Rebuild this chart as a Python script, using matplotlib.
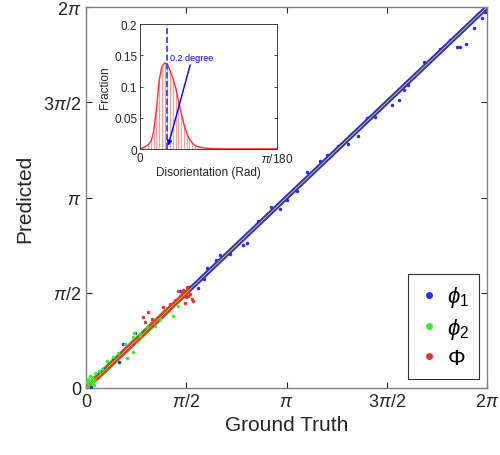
import numpy as np
import matplotlib
matplotlib.use("Agg")
import matplotlib.pyplot as plt

plt.rcParams["font.family"] = ["Liberation Sans", "DejaVu Sans"]
plt.rcParams["mathtext.fontset"] = "custom"
plt.rcParams["mathtext.rm"] = "Liberation Sans"
plt.rcParams["mathtext.it"] = "Liberation Sans:italic"

PI = np.pi

# ----- main scatter data (radians) -----
# dense cores along the diagonal
phi1_gt = [0.02, 0.60, 1.20, 1.80, 2.40, 3.00, 3.60, 4.20, 4.80, 5.40, 6.00, 6.27]
phi1_pred = [0.02, 0.60, 1.20, 1.80, 2.40, 3.00, 3.60, 4.20, 4.80, 5.40, 6.00, 6.27]
phi2_gt = [0.00, 0.30, 0.60, 0.90, 1.20, 1.30]
phi2_pred = [0.00, 0.30, 0.60, 0.90, 1.20, 1.30]
Phi_gt = [0.15, 0.50, 0.90, 1.30, 1.62]
Phi_pred = [0.15, 0.50, 0.90, 1.30, 1.62]

# scattered points off the core
phi1_out_gt = [5.81, 5.86, 5.95, 6.08, 4.79, 4.90, 4.53, 4.26, 3.78, 3.67, 3.46, 2.10,
               2.04, 2.46, 2.52, 3.04, 1.47, 1.75, 0.58, 0.52, 0.77, 0.27, 0.42, 6.20,
               5.30, 4.10, 2.90, 1.90, 0.08, 5.55, 5.05, 4.40, 3.30, 2.70, 2.25,
               6.25, 5.70, 4.98, 3.95, 3.15, 1.60, 1.85]
phi1_out_pred = [5.63, 5.62, 5.67, 5.94, 4.67, 4.75, 4.47, 4.16, 3.84, 3.74, 3.56, 2.19,
                 2.11, 2.36, 2.39, 2.95, 1.60, 1.65, 0.73, 0.43, 0.91, 0.31, 0.49, 6.10,
                 5.38, 4.02, 2.98, 1.98, 0.02, 5.60, 5.00, 4.45, 3.25, 2.75, 2.21,
                 6.20, 5.75, 4.92, 4.00, 3.10, 1.66, 1.80]
phi2_out_gt = [0.03, 0.06, 0.14, 0.33, 0.42, 0.64, 0.74, 0.75, 0.85, 1.16, 1.36, 1.44,
               0.74, 0.85, 1.08, 0.61, 0.02, 0.10, 0.20, 0.25, 0.50, 0.95, 0.05, 0.12]
phi2_out_pred = [0.15, 0.20, 0.25, 0.45, 0.51, 0.49, 0.59, 0.91, 0.86, 1.14, 1.19, 1.35,
                 0.84, 0.89, 1.02, 0.73, 0.10, 0.18, 0.28, 0.32, 0.58, 1.00, 0.11, 0.05]
Phi_out_gt = [0.97, 0.89, 1.44, 1.47, 1.60, 1.66, 1.55, 1.68, 1.32, 1.21, 1.03, 1.00,
              0.92, 1.05, 1.52, 1.58, 1.63, 1.40, 1.50, 1.56, 0.60, 0.35]
Phi_out_pred = [1.25, 1.17, 1.60, 1.52, 1.52, 1.47, 1.40, 1.43, 1.38, 1.34, 1.14, 1.02,
                1.09, 1.06, 1.62, 1.66, 1.55, 1.45, 1.58, 1.50, 0.62, 0.37]

# ----- inset histogram: disorientation (fraction of pi/180) vs fraction -----
dis_frac = [0.00, 0.02, 0.04, 0.06, 0.08, 0.10, 0.12, 0.14, 0.16, 0.18, 0.20, 0.22,
            0.24, 0.26, 0.28, 0.30, 0.32, 0.34, 0.36, 0.38, 0.40, 0.42, 0.44, 0.46,
            0.48, 0.50, 0.55, 0.60, 0.70, 0.80, 0.90, 1.00]
dis_val = [0.000, 0.002, 0.004, 0.007, 0.012, 0.028, 0.064, 0.110, 0.132, 0.138,
           0.136, 0.125, 0.113, 0.098, 0.078, 0.058, 0.040, 0.026, 0.016, 0.010,
           0.006, 0.004, 0.003, 0.002, 0.0015, 0.001, 0.0005, 0.0003, 0.0003,
           0.0003, 0.0003, 0.0003]
peak_deg = 0.2

BLUE, GREEN, RED = "#2b2bff", "#33ee33", "#ff2b2b"
GRAY = "#808080"

fig = plt.figure(figsize=(5.0, 4.56), dpi=100)
ax = fig.add_axes([0.172, 0.147, 0.802, 0.835])

series = [(phi1_gt, phi1_pred, phi1_out_gt, phi1_out_pred, BLUE, r"$\phi_1$", 3.4),
          (phi2_gt, phi2_pred, phi2_out_gt, phi2_out_pred, GREEN, r"$\phi_2$", 4.5),
          (Phi_gt, Phi_pred, Phi_out_gt, Phi_out_pred, RED, r"$\Phi$", 3.5)]
for gt, pr, ogt, opr, c, lab, lw in series:
    ax.plot(gt, pr, color=c, lw=lw, solid_capstyle="butt", zorder=2)
    ax.plot(ogt, opr, ".", color=c, ms=3, zorder=3)
    ax.plot([], [], ".", color=c, ms=8, label=lab)

ax.plot([0, 2 * PI], [0, 2 * PI], color="#000060", lw=0.9, zorder=4)
ax.plot([0, 2 * PI], [0, 2 * PI], color="#e6e600", lw=0.7, zorder=5)

ax.set_xlim(0, 2 * PI)
ax.set_ylim(0, 2 * PI)
ticks = [0, PI / 2, PI, 3 * PI / 2, 2 * PI]
tlabels = ["0", r"$\pi$/2", r"$\pi$", r"3$\pi$/2", r"2$\pi$"]
ax.set_xticks(ticks)
ax.set_xticklabels(tlabels)
ax.set_yticks(ticks)
ax.set_yticklabels(tlabels)
ax.tick_params(direction="in", top=True, right=True, labelsize=13,
               colors="#262626", length=4, width=0.8)
for s in ax.spines.values():
    s.set_color(GRAY)
    s.set_linewidth(1.0)
ax.set_xlabel("Ground Truth", fontsize=15, color="#262626", labelpad=4)
ax.set_ylabel("Predicted", fontsize=15, color="#262626", labelpad=6)

leg = ax.legend(loc="lower right", bbox_to_anchor=(0.98, 0.024), borderaxespad=0,
                fontsize=16, handletextpad=0.3, labelspacing=0.3,
                handlelength=1.0, borderpad=0.45, fancybox=False)
leg.get_frame().set_edgecolor("black")
leg.get_frame().set_linewidth(0.8)

# ----- inset -----
ins = fig.add_axes([0.28, 0.671, 0.274, 0.274])
x = np.array(dis_frac) * PI / 180
ins.vlines(x, 0, dis_val, color="#f7a0a0", lw=0.8)
ins.plot(x, dis_val, color="#ff3030", lw=1.0)
xp = peak_deg * PI / 180
ins.plot([xp, xp], [0, 0.2], "--", color="#3333ff", lw=1.2)
ins.annotate("", xy=(xp, 0.001), xytext=(0.372 * PI / 180, 0.139),
             arrowprops=dict(arrowstyle="-|>", color="#0000ee", lw=1.0,
                             mutation_scale=7))
ins.text(0.219 * PI / 180, 0.146, "0.2 degree", color="#0000ee", fontsize=6.5,
         va="center", ha="left")
ins.set_xlim(0, PI / 180)
ins.set_ylim(0, 0.2)
ins.set_xticks([0, PI / 180])
ins.set_xticklabels(["0", r"$\pi$/180"])
ins.set_yticks([0, 0.05, 0.1, 0.15, 0.2])
ins.set_yticklabels(["0", "0.05", "0.1", "0.15", "0.2"])
ins.tick_params(direction="in", top=True, right=True, labelsize=8.5,
                colors="#262626", length=2.5, width=0.6, pad=2)
for s in ins.spines.values():
    s.set_color("#404040")
    s.set_linewidth(0.7)
ins.set_xlabel("Disorientation (Rad)", fontsize=8.5, color="#262626", labelpad=1)
ins.set_ylabel("Fraction", fontsize=8.5, color="#262626", labelpad=2)

fig.savefig("out.png", dpi=100)
